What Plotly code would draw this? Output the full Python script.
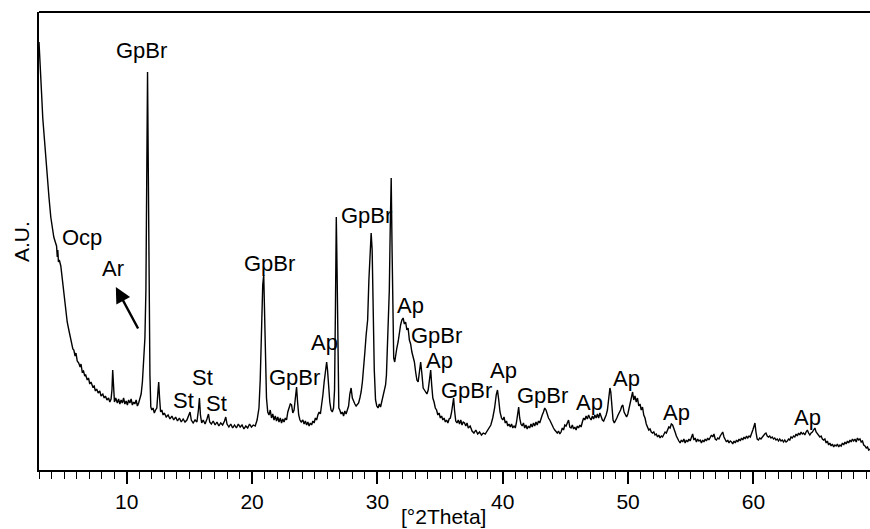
import plotly.graph_objects as go

# ---- data: (2theta, intensity in arbitrary units) ----
scan_3_9 = [(3.00, 428), (3.05, 418), (3.12, 400), (3.20, 378), (3.30, 352), (3.38, 338), (3.50, 318),
            (3.60, 302), (3.70, 290), (3.80, 272), (3.94, 253), (4.05, 243), (4.18, 233), (4.30, 228),
            (4.40, 224), (4.46, 213), (4.50, 220), (4.55, 208), (4.62, 210), (4.74, 204), (4.82, 195),
            (4.90, 187), (5.00, 172), (5.14, 157), (5.25, 148), (5.38, 140), (5.50, 132), (5.60, 128),
            (5.70, 121), (5.78, 120), (5.88, 114), (5.95, 117), (6.05, 109), (6.17, 107), (6.28, 103),
            (6.35, 106), (6.45, 98), (6.55, 99), (6.65, 94), (6.73, 95), (6.85, 90), (6.95, 92),
            (7.05, 86), (7.15, 88), (7.29, 83), (7.40, 84), (7.50, 79), (7.60, 81), (7.72, 77),
            (7.85, 79), (7.95, 74), (8.09, 76), (8.20, 72), (8.30, 74), (8.42, 70), (8.55, 72),
            (8.65, 68), (8.75, 71), (8.82, 80), (8.88, 100), (8.95, 78), (9.02, 68), (9.12, 72)]

scan_9_13 = [(9.25, 67), (9.35, 71), (9.45, 66), (9.55, 70), (9.65, 67), (9.75, 72), (9.85, 66),
             (9.95, 69), (10.05, 65), (10.15, 70), (10.25, 67), (10.35, 71), (10.45, 65), (10.55, 68),
             (10.65, 66), (10.75, 70), (10.85, 64), (10.95, 67), (11.05, 72), (11.15, 76), (11.25, 88),
             (11.35, 108), (11.45, 132), (11.53, 180), (11.60, 290), (11.66, 398), (11.72, 300),
             (11.78, 170), (11.85, 95), (11.92, 63), (12.00, 60), (12.10, 62), (12.20, 57), (12.30, 60),
             (12.40, 62), (12.50, 80), (12.55, 88), (12.62, 72), (12.70, 58), (12.80, 60), (12.90, 55)]

scan_13_20 = [(13.00, 57), (13.15, 53), (13.30, 55), (13.45, 51), (13.60, 54), (13.75, 50), (13.90, 53),
              (14.05, 49), (14.20, 52), (14.35, 48), (14.50, 51), (14.65, 48), (14.80, 50), (14.95, 56),
              (15.05, 58), (15.15, 50), (15.30, 47), (15.45, 50), (15.60, 48), (15.72, 60), (15.80, 72),
              (15.88, 55), (15.98, 47), (16.10, 50), (16.25, 46), (16.40, 51), (16.52, 56), (16.62, 48),
              (16.75, 46), (16.90, 49), (17.05, 45), (17.20, 48), (17.35, 44), (17.50, 47), (17.65, 45),
              (17.80, 49), (17.90, 53), (18.00, 46), (18.15, 43), (18.30, 46), (18.45, 42), (18.60, 45),
              (18.75, 42), (18.90, 46), (19.05, 43), (19.20, 45), (19.35, 41), (19.50, 44), (19.65, 42),
              (19.80, 46), (19.95, 43), (20.10, 45), (20.25, 44), (20.40, 50)]

scan_20_27 = [(20.55, 62), (20.65, 90), (20.75, 140), (20.85, 185), (20.93, 195), (21.00, 160),
              (21.08, 110), (21.15, 72), (21.25, 58), (21.35, 55), (21.45, 60), (21.55, 52), (21.65, 56),
              (21.75, 50), (21.85, 54), (21.95, 49), (22.05, 53), (22.15, 48), (22.25, 52), (22.35, 47),
              (22.45, 51), (22.55, 48), (22.65, 52), (22.75, 50), (22.85, 58), (22.95, 62), (23.05, 66),
              (23.15, 65), (23.25, 57), (23.35, 60), (23.45, 72), (23.55, 83), (23.63, 68), (23.72, 55),
              (23.82, 50), (23.92, 48), (24.05, 50), (24.15, 46), (24.25, 49), (24.35, 45), (24.45, 48),
              (24.55, 44), (24.65, 47), (24.75, 45), (24.85, 49), (24.95, 47), (25.05, 52), (25.15, 50),
              (25.25, 55), (25.35, 58), (25.45, 56), (25.55, 64), (25.65, 75), (25.75, 88), (25.85, 100),
              (25.95, 108), (26.02, 100), (26.10, 82), (26.20, 68), (26.30, 60), (26.40, 58), (26.50, 62),
              (26.58, 80), (26.65, 160), (26.72, 253), (26.78, 200), (26.85, 90), (26.92, 62)]

scan_27_31 = [(27.00, 60), (27.10, 56), (27.20, 58), (27.30, 54), (27.40, 59), (27.50, 56), (27.60, 60),
              (27.70, 64), (27.80, 76), (27.90, 82), (28.00, 72), (28.10, 68), (28.20, 66), (28.30, 64),
              (28.40, 66), (28.50, 67), (28.60, 72), (28.70, 78), (28.80, 88), (28.90, 100), (29.00, 118),
              (29.10, 135), (29.22, 150), (29.32, 190), (29.42, 225), (29.50, 237), (29.58, 220),
              (29.66, 160), (29.75, 100), (29.85, 70), (29.95, 64), (30.05, 62), (30.15, 66), (30.25, 63),
              (30.35, 68), (30.45, 72), (30.55, 78), (30.65, 85), (30.72, 95), (30.80, 120), (30.88, 145),
              (30.95, 180), (31.02, 240), (31.10, 292), (31.17, 220), (31.23, 150), (31.30, 112),
              (31.38, 108), (31.46, 118)]

scan_31_36 = [(31.55, 122), (31.65, 128), (31.75, 138), (31.85, 145), (31.95, 150), (32.05, 152),
              (32.15, 146), (32.25, 148), (32.35, 140), (32.45, 142), (32.55, 130), (32.65, 126),
              (32.75, 118), (32.85, 112), (32.95, 108), (33.05, 98), (33.15, 90), (33.25, 88), (33.35, 98),
              (33.45, 108), (33.55, 96), (33.65, 82), (33.75, 80), (33.85, 78), (33.95, 76), (34.05, 80),
              (34.15, 92), (34.25, 100), (34.33, 85), (34.42, 72), (34.52, 68), (34.62, 62), (34.72, 60),
              (34.82, 55), (34.92, 57), (35.02, 52), (35.12, 54), (35.22, 50), (35.32, 52), (35.42, 48),
              (35.52, 50), (35.62, 47), (35.72, 51), (35.82, 52), (35.92, 58), (36.02, 68), (36.08, 72),
              (36.15, 60), (36.25, 49), (36.35, 47), (36.45, 50)]

scan_36_46 = [(36.55, 46), (36.65, 50), (36.75, 45), (36.85, 48), (36.95, 47), (37.05, 44), (37.15, 47),
              (37.25, 42), (37.40, 44), (37.55, 39), (37.70, 37), (37.85, 40), (38.00, 36), (38.15, 38),
              (38.30, 35), (38.45, 37), (38.60, 36), (38.75, 39), (38.90, 42), (39.05, 45), (39.20, 52),
              (39.35, 62), (39.48, 75), (39.58, 80), (39.68, 70), (39.78, 58), (39.90, 52), (40.00, 50),
              (40.10, 53), (40.20, 47), (40.30, 49), (40.40, 44), (40.50, 46), (40.60, 43), (40.70, 46),
              (40.80, 42), (40.90, 44), (41.00, 42), (41.10, 48), (41.20, 58), (41.27, 63), (41.35, 52),
              (41.45, 46), (41.55, 44), (41.65, 47), (41.75, 42), (41.85, 45), (41.95, 41), (42.05, 44),
              (42.15, 42), (42.25, 46), (42.35, 43), (42.45, 47), (42.55, 44), (42.65, 48), (42.75, 45),
              (42.85, 49), (42.95, 47), (43.05, 52), (43.15, 55), (43.25, 58), (43.35, 62), (43.45, 60),
              (43.55, 55), (43.65, 52), (43.75, 50), (43.85, 47), (43.95, 45), (44.05, 42), (44.15, 40),
              (44.25, 38), (44.35, 37), (44.45, 39), (44.55, 36), (44.65, 38), (44.75, 42), (44.85, 40),
              (44.95, 45), (45.05, 44), (45.15, 48), (45.25, 50), (45.35, 43), (45.45, 42), (45.55, 45),
              (45.65, 41), (45.75, 43), (45.85, 40), (45.95, 44), (46.05, 42), (46.15, 45), (46.25, 43),
              (46.35, 48)]

scan_46_52 = [(46.45, 52), (46.55, 50), (46.65, 54), (46.75, 51), (46.85, 55), (46.95, 52), (47.05, 50),
              (47.15, 54), (47.25, 51), (47.35, 55), (47.45, 52), (47.55, 56), (47.65, 52), (47.75, 57),
              (47.85, 54), (47.95, 50), (48.05, 49), (48.15, 52), (48.25, 55), (48.35, 60), (48.45, 70),
              (48.55, 82), (48.62, 78), (48.70, 60), (48.80, 50), (48.90, 47), (49.00, 49), (49.10, 52),
              (49.20, 55), (49.30, 57), (49.40, 60), (49.50, 64), (49.58, 65), (49.68, 58), (49.78, 55),
              (49.88, 53), (49.98, 56), (50.08, 62), (50.18, 70), (50.28, 74), (50.36, 78), (50.45, 70),
              (50.55, 74), (50.65, 68), (50.75, 72), (50.85, 64), (50.95, 66), (51.05, 60), (51.15, 63),
              (51.25, 55), (51.35, 52), (51.45, 46), (51.55, 42), (51.65, 40), (51.75, 41), (51.85, 38)]

scan_52_60 = [(51.95, 37), (52.05, 38), (52.15, 35), (52.25, 36), (52.35, 33), (52.45, 35), (52.55, 32),
              (52.65, 34), (52.75, 33), (52.85, 36), (52.95, 38), (53.05, 37), (53.15, 41), (53.25, 43),
              (53.35, 42), (53.45, 46), (53.55, 45), (53.65, 42), (53.75, 38), (53.85, 34), (53.95, 31),
              (54.05, 29), (54.15, 27), (54.25, 30), (54.35, 28), (54.45, 31), (54.55, 27), (54.65, 30),
              (54.75, 28), (54.85, 31), (54.95, 29), (55.05, 33), (55.15, 36), (55.25, 30), (55.35, 32),
              (55.45, 28), (55.55, 31), (55.65, 29), (55.75, 30), (55.85, 27), (55.95, 30), (56.05, 28),
              (56.15, 31), (56.25, 29), (56.35, 32), (56.45, 30), (56.55, 33), (56.65, 35), (56.75, 33),
              (56.85, 36), (56.95, 31), (57.05, 30), (57.15, 32), (57.25, 31), (57.35, 34), (57.45, 36),
              (57.55, 38), (57.65, 33), (57.75, 30), (57.85, 28), (57.95, 30), (58.05, 27), (58.15, 29),
              (58.25, 28), (58.35, 26), (58.45, 29), (58.55, 27), (58.65, 30), (58.75, 28), (58.85, 31),
              (58.95, 29), (59.05, 32), (59.15, 30), (59.25, 33), (59.35, 31), (59.45, 34), (59.55, 32),
              (59.65, 34), (59.75, 33), (59.85, 36)]

scan_60_69 = [(59.95, 40), (60.05, 44), (60.12, 47), (60.20, 38), (60.30, 31), (60.40, 30), (60.50, 32),
              (60.60, 31), (60.70, 33), (60.80, 35), (60.90, 36), (61.00, 37), (61.10, 34), (61.20, 33),
              (61.30, 34), (61.40, 32), (61.50, 33), (61.60, 31), (61.70, 32), (61.80, 30), (61.90, 31),
              (62.00, 29), (62.10, 31), (62.20, 29), (62.30, 30), (62.40, 28), (62.50, 30), (62.60, 28),
              (62.70, 29), (62.80, 31), (62.90, 30), (63.00, 33), (63.10, 32), (63.20, 34), (63.30, 33),
              (63.40, 36), (63.50, 34), (63.60, 37), (63.70, 35), (63.80, 38), (63.90, 36), (64.00, 37),
              (64.10, 35), (64.20, 38), (64.30, 40), (64.40, 37), (64.50, 35), (64.60, 37), (64.70, 38),
              (64.80, 40), (64.90, 42), (65.00, 38), (65.10, 36), (65.20, 35), (65.30, 33), (65.40, 34),
              (65.50, 31), (65.60, 30), (65.70, 31), (65.80, 27), (65.90, 29), (66.00, 25), (66.10, 27),
              (66.20, 24), (66.30, 26), (66.40, 23), (66.50, 25), (66.60, 24), (66.70, 26), (66.80, 23),
              (66.90, 25), (67.00, 24), (67.10, 27), (67.20, 25), (67.30, 28), (67.40, 26), (67.50, 29),
              (67.60, 27), (67.70, 30), (67.80, 28), (67.90, 31), (68.00, 29), (68.10, 31), (68.20, 28),
              (68.30, 32), (68.40, 30), (68.50, 31), (68.60, 28), (68.70, 29), (68.80, 25), (68.90, 24),
              (69.00, 22), (69.10, 23), (69.20, 20), (69.30, 21)]

# phase labels: (text, 2theta, intensity)
peak_labels = [("GpBr", 11.20, 420), ("Ocp", 6.41, 233), ("Ar", 8.89, 202), ("GpBr", 21.4, 207),
               ("St", 16.07, 93), ("St", 14.55, 70), ("St", 17.19, 67), ("GpBr", 23.4, 93),
               ("GpBr", 29.1, 255), ("Ap", 25.8, 128), ("Ap", 32.65, 165), ("GpBr", 34.7, 135),
               ("Ap", 34.93, 110), ("GpBr", 37.1, 80), ("Ap", 40.06, 100), ("GpBr", 43.18, 75),
               ("Ap", 46.94, 68), ("Ap", 49.87, 92), ("Ap", 53.83, 58), ("Ap", 64.35, 53)]

arrow_tail = (10.97, 140)
arrow_head = (9.13, 183)

x_title = "[°2Theta]"
y_title = "A.U."
x_range = [3.0, 69.3]
y_range = [0, 458]

segments = [scan_3_9, scan_9_13, scan_13_20, scan_20_27, scan_27_31, scan_31_36,
            scan_36_46, scan_46_52, scan_52_60, scan_60_69]
xs, ys = [], []
for seg in segments:
    for a, b in seg:
        xs.append(a)
        ys.append(b)

FONT = "Liberation Sans, Arial, sans-serif"

fig = go.Figure()
fig.add_trace(go.Scatter(x=xs, y=ys, mode="lines",
                         line=dict(color="black", width=1.4), hoverinfo="skip"))

annotations = []
for txt, px, py in peak_labels:
    annotations.append(dict(x=px, y=py, xref="x", yref="y", text=txt, showarrow=False,
                            xanchor="center", yanchor="middle",
                            font=dict(family=FONT, size=22, color="black")))
annotations.append(dict(x=arrow_head[0], y=arrow_head[1], ax=arrow_tail[0], ay=arrow_tail[1],
                        xref="x", yref="y", axref="x", ayref="y", text="", showarrow=True,
                        arrowhead=2, arrowsize=1.3, arrowwidth=2.4, arrowcolor="black"))
annotations.append(dict(x=0.487, y=-0.1026, xref="paper", yref="paper", text=x_title,
                        showarrow=False, xanchor="center", yanchor="middle",
                        font=dict(family=FONT, size=21, color="black")))
annotations.append(dict(x=-0.0217, y=0.50, xref="paper", yref="paper", text=y_title,
                        showarrow=False, xanchor="center", yanchor="middle", textangle=-90,
                        font=dict(family=FONT, size=21, color="black")))

fig.update_layout(
    width=870, height=529,
    margin=dict(l=39, r=0, t=12, b=59),
    paper_bgcolor="white", plot_bgcolor="white",
    showlegend=False,
    annotations=annotations,
    shapes=[dict(type="line", xref="paper", yref="paper", x0=0, x1=1, y0=1, y1=1,
                 line=dict(color="black", width=2))],
    xaxis=dict(range=x_range, showline=True, linecolor="black", linewidth=2,
               ticks="outside", ticklen=12, tickwidth=1.5, tickcolor="black",
               tick0=0, dtick=10, showgrid=False, zeroline=False,
               tickfont=dict(family=FONT, size=21, color="black"),
               minor=dict(ticks="outside", ticklen=7, tickwidth=1.2, tickcolor="black", dtick=1,
                          showgrid=False)),
    yaxis=dict(range=y_range, showline=True, linecolor="black", linewidth=2,
               ticks="", showticklabels=False, showgrid=False, zeroline=False),
)

fig.write_html("out.html", config={"displayModeBar": False},
               post_script="document.body.style.margin='0px';document.body.style.overflow='hidden';")
